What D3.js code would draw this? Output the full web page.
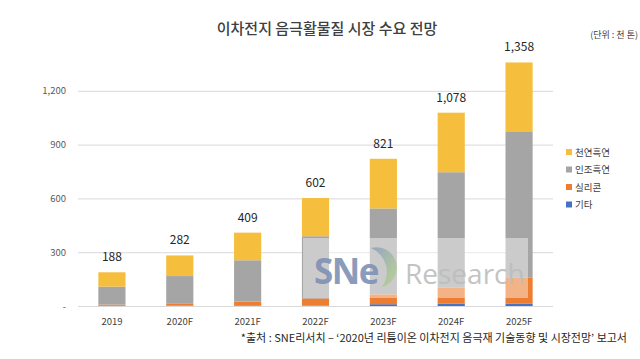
<!DOCTYPE html>
<html>
<head>
<meta charset="utf-8">
<script src="https://cdn.jsdelivr.net/npm/d3@7"></script>
<style>
  body { margin: 0; background: #fff; }
  svg { display: block; font-family: "Noto Sans CJK KR", "Noto Sans", sans-serif; }
</style>
</head>
<body>
<div id="chart"></div>
<script>
// chart data
const years = ["2019", "2020F", "2021F", "2022F", "2023F", "2024F", "2025F"];
const etc = [1, 2, 3, 2, 10, 14, 14];           // 기타
const silicon = [7, 10, 22, 40, 55, 90, 143];   // 실리콘
const artificial = [100, 155, 230, 347, 479, 642, 817]; // 인조흑연
const natural = [80, 115, 154, 213, 277, 332, 384];     // 천연흑연
const totals = [188, 282, 409, 602, 821, 1078, 1358];
const yTicks = [0, 300, 600, 900, 1200];

const seriesNames = ["기타", "실리콘", "인조흑연", "천연흑연"];
const colors = {"기타": "#4472C4", "실리콘": "#ED7D31", "인조흑연": "#A5A5A5", "천연흑연": "#F5BE3C"};

const width = 640, height = 359;
const svg = d3.select("#chart").append("svg")
    .attr("width", width)
    .attr("height", height);

const x = d3.scaleBand().domain(years).range([78, 553]).paddingInner(0.6).paddingOuter(0.3);
const y = d3.scaleLinear().domain([0, 1500]).range([306, 37]);

// gridlines
svg.append("g").selectAll("line")
    .data(yTicks)
    .enter().append("line")
    .attr("x1", 78).attr("x2", 553)
    .attr("y1", d => y(d) + 0.5).attr("y2", d => y(d) + 0.5)
    .attr("stroke", "#D9D9D9").attr("stroke-width", 1);

// y labels
svg.append("g").selectAll("text")
    .data(yTicks)
    .enter().append("text")
    .attr("x", 66)
    .attr("y", d => y(d) + 3.5)
    .attr("text-anchor", "end")
    .attr("font-size", 9.5)
    .attr("fill", "#595959")
    .text(d => d === 0 ? "-" : d3.format(",")(d));

// stacked bars
const rows = years.map((yr, i) => ({
    year: yr, "기타": etc[i], "실리콘": silicon[i], "인조흑연": artificial[i], "천연흑연": natural[i]
}));
const stack = d3.stack().keys(seriesNames)(rows);

svg.append("g").selectAll("g")
    .data(stack)
    .enter().append("g")
    .attr("fill", d => colors[d.key])
    .selectAll("rect")
    .data(d => d)
    .enter().append("rect")
    .attr("x", d => x(d.data.year))
    .attr("width", x.bandwidth())
    .attr("y", d => y(d[1]))
    .attr("height", d => y(d[0]) - y(d[1]));

// total labels
svg.append("g").selectAll("text")
    .data(years)
    .enter().append("text")
    .attr("x", d => x(d) + x.bandwidth() / 2)
    .attr("y", (d, i) => y(totals[i]) - 11)
    .attr("text-anchor", "middle")
    .attr("font-size", 12)
    .attr("fill", "#262626")
    .text((d, i) => d3.format(",")(totals[i]));

// x labels
svg.append("g").selectAll("text")
    .data(years)
    .enter().append("text")
    .attr("x", d => x(d) + x.bandwidth() / 2)
    .attr("y", 325)
    .attr("text-anchor", "middle")
    .attr("font-size", 9.5)
    .attr("fill", "#404040")
    .text(d => d);

// watermark
const defs = svg.append("defs");
const grad = defs.append("linearGradient").attr("id", "swoosh")
    .attr("x1", "0").attr("y1", "0").attr("x2", "1").attr("y2", "1");
grad.append("stop").attr("offset", "0%").attr("stop-color", "#8FA0C4");
grad.append("stop").attr("offset", "100%").attr("stop-color", "#B9D48A");

const wm = svg.append("g");
wm.append("rect")
    .attr("x", 303).attr("y", 238)
    .attr("width", 225).attr("height", 60)
    .attr("fill", "#fff").attr("opacity", 0.42);
wm.append("path")
    .attr("d", "M371,248 A20,20 0 0 1 382,287 A26,26 0 0 0 371,248 Z")
    .attr("fill", "url(#swoosh)").attr("opacity", 0.9);
wm.append("text")
    .attr("x", 314).attr("y", 284)
    .attr("font-size", 35).attr("font-weight", "bold")
    .attr("fill", "#7F91B5").attr("opacity", 0.9)
    .attr("font-family", "Open Sans, sans-serif")
    .attr("letter-spacing", -1.5)
    .text("SNe");
wm.append("text")
    .attr("x", 405).attr("y", 284)
    .attr("font-size", 28)
    .attr("fill", "#BDBDBD").attr("opacity", 0.9)
    .attr("font-family", "Open Sans, sans-serif")
    .text("Research");

// legend
const legendOrder = ["천연흑연", "인조흑연", "실리콘", "기타"];
const lg = svg.append("g").selectAll("g")
    .data(legendOrder)
    .enter().append("g")
    .attr("transform", (d, i) => `translate(566, ${152 + i * 17.5})`);
lg.append("rect")
    .attr("x", 0).attr("y", -3)
    .attr("width", 6).attr("height", 6)
    .attr("fill", d => colors[d]);
lg.append("text")
    .attr("x", 9).attr("y", 3.5)
    .attr("font-size", 9.5)
    .attr("fill", "#404040")
    .text(d => d);

// title and notes
svg.append("text")
    .attr("x", 327).attr("y", 34)
    .attr("text-anchor", "middle")
    .attr("font-size", 15)
    .attr("font-weight", 500)
    .attr("fill", "#404040")
    .text("이차전지 음극활물질 시장 수요 전망");

svg.append("text")
    .attr("x", 638).attr("y", 38)
    .attr("text-anchor", "end")
    .attr("font-size", 9)
    .attr("fill", "#404040")
    .text("(단위 : 천 톤)");

svg.append("text")
    .attr("x", 627).attr("y", 342)
    .attr("text-anchor", "end")
    .attr("font-size", 11)
    .attr("fill", "#262626")
    .text("*출처 : SNE리서치 – ‘2020년 리튬이온 이차전지 음극재 기술동향 및 시장전망’ 보고서");
</script>
</body>
</html>
